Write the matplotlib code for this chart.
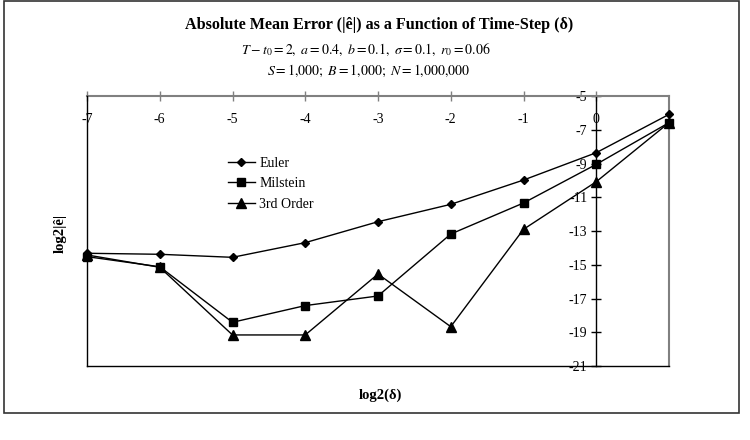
import matplotlib
matplotlib.use("Agg")
import matplotlib.pyplot as plt
from matplotlib.spines import Spine
from matplotlib.patches import Rectangle

plt.rcParams['font.family'] = ['Liberation Serif', 'DejaVu Serif']
plt.rcParams['mathtext.fontset'] = 'stix'

# ---- data ----
x_vals = [-7, -6, -5, -4, -3, -2, -1, 0, 1]
euler = [-14.32, -14.38, -14.56, -13.69, -12.45, -11.42, -9.98, -8.36, -6.09]
milstein = [-14.52, -15.12, -18.41, -17.42, -16.85, -13.18, -11.34, -9.05, -6.58]
third = [-14.42, -15.15, -19.16, -19.16, -15.55, -18.67, -12.9, -10.08, -6.58]
series_names = ["Euler", "Milstein", "3rd Order"]
x_ticks = [-7, -6, -5, -4, -3, -2, -1, 0]
y_ticks = [-5, -7, -9, -11, -13, -15, -17, -19, -21]

title = "Absolute Mean Error (|ê|) as a Function of Time-Step (δ)"
sub1 = r"$T-t_0=2,\ a=0.4,\ b=0.1,\ \sigma=0.1,\ r_0=0.06$"
sub2 = r"$S=1{,}000;\ B=1{,}000;\ N=1{,}000{,}000$"

fig = plt.figure(figsize=(7.5, 4.4), dpi=100)
fig.patch.set_facecolor('white')
# outer chart border
fig.patches.append(Rectangle((4/750, 1-413/440), 735/750, 412/440, transform=fig.transFigure,
                             fill=False, edgecolor='#333333', linewidth=1.2))

ax = fig.add_axes([87/750, 1-366/440, 582/750, 270/440])
ax.set_xlim(-7, 1)
ax.set_ylim(-21, -5)

gray = '#808080'
# y axis crossing at x = 0
ax.spines['left'].set_position(('data', 0))
ax.spines['left'].set_color('black')
ax.spines['left'].set_linewidth(1.0)
# frame left
fl = Spine.linear_spine(ax, 'left')
fl.set_position(('axes', 0))
fl.set_color('black'); fl.set_linewidth(1.0)
ax.spines['frameleft'] = fl
ax.spines['bottom'].set_color('black')
ax.spines['bottom'].set_linewidth(1.0)
ax.spines['top'].set_color(gray)
ax.spines['top'].set_linewidth(1.5)
ax.spines['right'].set_color(gray)
ax.spines['right'].set_linewidth(1.5)

ax.set_xticks(x_ticks)
ax.set_xticklabels([str(v) for v in x_ticks])
ax.tick_params(axis='x', bottom=False, labelbottom=False, top=True, labeltop=True,
               direction='inout', length=7, width=1, color=gray, pad=-25, labelsize=10)
ax.set_yticks(y_ticks)
ax.set_yticklabels([str(v) for v in y_ticks])
ax.tick_params(axis='y', left=True, labelleft=True, direction='inout', length=7, width=1,
               color='black', pad=3, labelsize=10)

ax.plot(x_vals, euler, color='black', lw=1, marker='D', ms=4.2, label=series_names[0], clip_on=False, zorder=3)
ax.plot(x_vals, milstein, color='black', lw=1, marker='s', ms=6, label=series_names[1], clip_on=False, zorder=3)
ax.plot(x_vals, third, color='black', lw=1, marker='^', ms=6.5, label=series_names[2], clip_on=False, zorder=3)

leg = ax.legend(loc='upper left', bbox_to_anchor=(0.22, 0.822), frameon=False, fontsize=10,
                handlelength=2.0, handletextpad=0.3, labelspacing=0.55)

fig.text(379.5/750, 1-25/440, title, ha='center', va='center', fontsize=11.6, fontweight='bold')
fig.text(366/750, 1-50/440, sub1, ha='center', va='center', fontsize=10)
fig.text(369/750, 1-71/440, sub2, ha='center', va='center', fontsize=10)
fig.text(380/750, 1-395/440, "log2(δ)", ha='center', va='center', fontsize=10.5, fontweight='bold')
fig.text(60/750, 1-233/440, "log2|ê|", ha='center', va='center', fontsize=10.5, fontweight='bold', rotation=90)

fig.savefig("out.png", dpi=100)
